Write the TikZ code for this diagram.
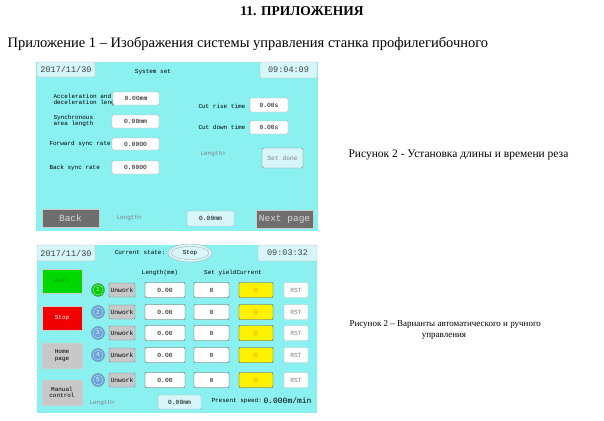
\documentclass[tikz,border=0pt]{standalone}
\usepackage{fontspec}
\setmainfont{Liberation Serif}
\newfontfamily\scrfont{Liberation Mono}
\definecolor{scrcyan}{HTML}{8AF0F0}
\definecolor{panelblue}{HTML}{D6F6FA}
\definecolor{btngray}{HTML}{6E6E6E}
\definecolor{keygray}{HTML}{C8C8C8}
\begin{document}
\begin{tikzpicture}[x=1pt,y=-1pt,
  screen/.style={fill=scrcyan,draw=white,line width=1pt},
  field/.style={draw=gray!60,fill=white,rounded corners=1pt,font=\scrfont\fontsize{6.3}{7}\selectfont},
  infobox/.style={draw=gray!50,fill=panelblue,rounded corners=1pt,font=\scrfont\fontsize{8.5}{9}\selectfont,text=black!75},
  lbl/.style={font=\scrfont\fontsize{6}{6.5}\selectfont,align=left},
  bigbtn/.style={fill=btngray,draw=gray!40,text=white!85!black,font=\scrfont\fontsize{9.5}{10}\selectfont},
  sidebtn/.style={draw=gray!40,font=\scrfont\fontsize{6}{6.5}\selectfont,align=center},
  caption/.style={font=\fontsize{11.5}{12}\selectfont,anchor=west}]
\useasboundingbox (0,0) rectangle (604,420);
% headings
\node (title) at (302,11) {\bfseries\fontsize{13.5}{15}\selectfont 11. ПРИЛОЖЕНИЯ};
\node[anchor=west] (sub) at (4,44) {\fontsize{14.5}{15}\selectfont Приложение 1 – Изображения системы управления станка профилегибочного};
% ---- screen 1
\fill[screen] (35,61) rectangle (318,231);
\draw[infobox] (37,62) rectangle node (date1) {2017/11/30} (95,77);
\draw[infobox] (260,62) rectangle node (time1) {09:04:09} (317,78);
\node[lbl] (sys) at (153,72) {System set};
\node[lbl,anchor=west] (acc) at (50,100) {Acceleration and\\deceleration length};
\draw[field] (113,92) rectangle node {0.00mm} (159,105);
\node[lbl,anchor=west] (syn) at (50,121) {Synchronous\\area length};
\draw[field] (112,115) rectangle node {0.00mm} (159,128);
\node[lbl,anchor=west] (fwd) at (46,144) {Forward sync rate};
\draw[field] (112,138) rectangle node {0.0000} (159,150);
\node[lbl,anchor=west] (bck) at (46,168) {Back sync rate};
\draw[field] (112,161) rectangle node {0.0000} (159,174);
\node[lbl,anchor=west] (rise) at (195,106) {Cut rise time};
\draw[field] (250,98) rectangle node {0.00s} (288,112);
\node[lbl,anchor=west] (down) at (195,127) {Cut down time};
\draw[field] (250,121) rectangle node {0.00s} (288,134);
\node[lbl,anchor=west,text=gray] (len1) at (197,154) {Length>};
\draw[field,fill=panelblue,draw=gray,rounded corners=2pt] (262,148) rectangle node[text=gray] {Set done} (303,168);
\draw[bigbtn] (42,209) rectangle node {Back} (99,227);
\node[lbl,anchor=west,text=gray] (len2) at (113,218) {Length>};
\draw[field,fill=panelblue] (187,211) rectangle node {0.00mm} (234,226);
\draw[bigbtn] (256,210) rectangle node {Next page} (313,228);
\node[caption] (cap1) at (345,155) {Рисунок 2 - Установка длины и времени реза};
% ---- screen 2
\fill[screen] (36,244) rectangle (317,413);
\draw[infobox] (37,245) rectangle node (date2) {2017/11/30} (95,261);
\draw[infobox] (258,245) rectangle node (time2) {09:03:32} (317,261);
\node[lbl] (state) at (140,253) {Current state:};
\draw[gray!60,fill=panelblue] (190,253) ellipse (22 and 9);
\draw[gray!60] (190,253) ellipse (19 and 6.5);
\node[lbl] (stop) at (190,253) {Stop};
\draw[sidebtn,fill=green!85!black] (42,269) rectangle node[text=green!60!black] {Auto} (82,293);
\draw[sidebtn,fill=red!95!black] (42,306) rectangle node[text=white] {Stop} (82,330);
\draw[sidebtn,fill=keygray] (42,343) rectangle node {Home\\page} (82,368);
\draw[sidebtn,fill=keygray] (42,380) rectangle node {Manual\\control} (82,405);
\node[lbl] (hlen) at (160,273) {Length(mm)};
\node[lbl] (hyld) at (233,273) {Set yieldCurrent};
\foreach \n/\y in {1/290,2/312,3/333,4/355,5/380}{
  \ifnum\n=1 \def\cc{green!80!black}\else\def\cc{cyan!60!blue!60}\fi
  \draw[gray,fill=\cc] (98,\y) circle (6.5);
  \draw[white!70!cyan] (98,\y) circle (5);
  \node[lbl,text=white!80!yellow] (num\n) at (98,\y) {\n};
  \draw[field,fill=keygray,draw=gray] (109,\y-7) rectangle node {Unwork} (135,\y+7);
  \draw[field,draw=black!70] (145,\y-7.5) rectangle node {0.00} (185,\y+7.5);
  \draw[field,draw=black!70] (194,\y-7.5) rectangle node {0} (229,\y+7.5);
  \draw[field,fill=yellow,draw=black!70] (239,\y-7.5) rectangle node[text=orange] {0} (273,\y+7.5);
  \draw[field,draw=gray!50] (284,\y-7.5) rectangle node[text=gray] {RST} (308,\y+7.5);
}
\node[lbl,anchor=west,text=gray] (len3) at (86,403) {Length>};
\draw[field,fill=panelblue] (158,395) rectangle node {0.00mm} (201,409);
\node[lbl,anchor=west] (spd) at (208,401) {Present speed:};
\node[anchor=west,font=\scrfont\fontsize{8}{8}\selectfont] (spdv) at (260,401) {0.000m/min};
\node[caption,font=\fontsize{9}{10}\selectfont] (cap2) at (346,324) {Рисунок 2 – Варианты автоматического и ручного};
\node[font=\fontsize{9}{10}\selectfont] (cap2b) at (444,336) {управления};
\end{tikzpicture}
\end{document}
